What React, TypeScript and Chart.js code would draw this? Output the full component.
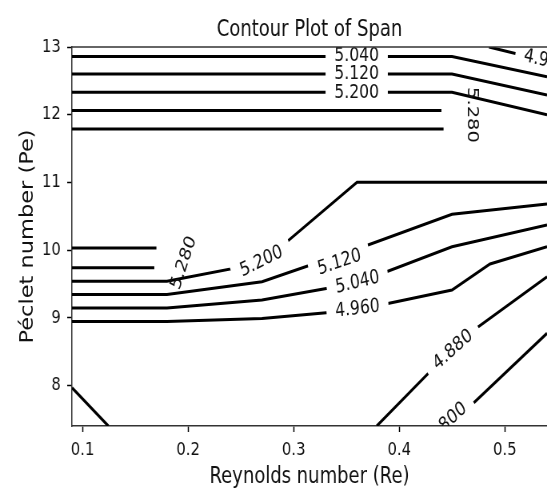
import React, { useEffect, useRef } from "react";
import { Chart, registerables } from "chart.js";

Chart.register(...registerables);

type Pt = [number, number];

// Axis ranges and ticks
const reRange: Pt = [0.09, 0.54];
const peRange: Pt = [7.4, 13.0];
const xTicks = [0.1, 0.2, 0.3, 0.4, 0.5];
const xTickLabels = ["0.1", "0.2", "0.3", "0.4", "0.5"];
const yTicks = [8, 9, 10, 11, 12, 13];
const yTickLabels = ["8", "9", "10", "11", "12", "13"];

// Contour levels of Span
const levels = [4.8, 4.88, 4.96, 5.04, 5.12, 5.2, 5.28, 5.36];

// Contour polylines per level, vertices as [Re, Pe]
const span480: Pt[][] = [
  [[0.4475, 7.4], [0.54, 8.77]],
];
const span488: Pt[][] = [
  [[0.09, 7.966], [0.1244, 7.4]],
  [[0.3787, 7.4], [0.4607, 8.705], [0.54, 9.606]],
];
const span496: Pt[][] = [
  [[0.09, 8.944], [0.18, 8.944], [0.27, 8.99], [0.36, 9.114], [0.45, 9.41], [0.486, 9.794], [0.54, 10.049]],
  [[0.485, 13.0], [0.54, 12.79]],
];
const span504: Pt[][] = [
  [[0.09, 12.86], [0.45, 12.86], [0.54, 12.56]],
  [[0.09, 9.144], [0.18, 9.144], [0.27, 9.262], [0.36, 9.513], [0.45, 10.049], [0.54, 10.37]],
];
const span512: Pt[][] = [
  [[0.09, 12.6], [0.45, 12.6], [0.54, 12.29]],
  [[0.09, 9.343], [0.18, 9.343], [0.27, 9.532], [0.36, 10.015], [0.45, 10.528], [0.54, 10.68]],
];
const span520: Pt[][] = [
  [[0.09, 12.33], [0.45, 12.33], [0.54, 12.0]],
  [[0.09, 9.54], [0.18, 9.54], [0.27, 9.81], [0.36, 11.0], [0.54, 11.0]],
];
const span528: Pt[][] = [
  [[0.09, 12.06], [0.44, 12.06]],
  [[0.09, 9.74], [0.168, 9.74]],
];
const span536: Pt[][] = [
  [[0.09, 11.79], [0.442, 11.79]],
  [[0.09, 10.03], [0.17, 10.03]],
];
const contourSets: Pt[][][] = [span480, span488, span496, span504, span512, span520, span528, span536];

// Inline contour labels: [level, Re, Pe, angle in degrees]
const contourLabels: [number, number, number, number][] = [
  [5.04, 0.3597, 12.865, 0],
  [5.12, 0.3597, 12.598, 0],
  [5.2, 0.3597, 12.328, 0],
  [5.28, 0.4686, 11.995, 90],
  [4.96, 0.539, 12.79, 14],
  [5.28, 0.196, 9.81, -72],
  [5.2, 0.2695, 9.83, -27],
  [5.12, 0.3434, 9.816, -19],
  [5.04, 0.3605, 9.52, -14],
  [4.96, 0.3605, 9.129, -7],
  [4.88, 0.4509, 8.523, -42],
  [4.8, 0.4453, 7.444, -43],
];

// The canvas is drawn wider than it is shown and squeezed horizontally by CSS.
const SHOWN_W = 547;
const SHOWN_H = 491;
const SQUEEZE = 0.8;
const CANVAS_W = Math.round(SHOWN_W / SQUEEZE);

const FONT = "'DejaVu Sans', sans-serif";
const LABEL_FONT = `19.5px ${FONT}`;
const TEXT_COLOR = "#111";
const SPINE_COLOR = "#333";

function canvasAngle(deg: number) {
  const r = (deg * Math.PI) / 180;
  return Math.atan2(Math.sin(r), Math.cos(r) / SQUEEZE);
}

function labelBoxes(chart: any, level: number) {
  const ctx = chart.ctx as CanvasRenderingContext2D;
  ctx.save();
  ctx.font = LABEL_FONT;
  const boxes = contourLabels
    .filter((l) => l[0] === level)
    .map(([lv, re, pe, deg]) => ({
      text: lv.toFixed(3),
      cx: chart.scales.x.getPixelForValue(re),
      cy: chart.scales.y.getPixelForValue(pe),
      a: canvasAngle(deg),
      hw: ctx.measureText(lv.toFixed(3)).width / 2 + 11,
      hh: 15,
    }));
  ctx.restore();
  return boxes;
}

const contourPlugin = {
  id: "contourLabels",
  beforeDatasetDraw(chart: any, args: any) {
    const ds = chart.data.datasets[args.index];
    const ctx = chart.ctx as CanvasRenderingContext2D;
    ctx.save();
    ctx.beginPath();
    ctx.rect(0, 0, chart.width, chart.height);
    for (const b of labelBoxes(chart, ds.level)) {
      const c = Math.cos(b.a);
      const s = Math.sin(b.a);
      const corners: Pt[] = [[-b.hw, -b.hh], [b.hw, -b.hh], [b.hw, b.hh], [-b.hw, b.hh]];
      corners.forEach(([u, v], i) => {
        const px = b.cx + u * c - v * s;
        const py = b.cy + u * s + v * c;
        if (i === 0) ctx.moveTo(px, py);
        else ctx.lineTo(px, py);
      });
      ctx.closePath();
    }
    ctx.clip("evenodd");
  },
  afterDatasetDraw(chart: any) {
    chart.ctx.restore();
  },
  afterDatasetsDraw(chart: any) {
    const ctx = chart.ctx as CanvasRenderingContext2D;
    const { left, right, top, bottom } = chart.chartArea;
    ctx.save();
    ctx.beginPath();
    ctx.rect(left, top, right - left, bottom - top);
    ctx.clip();
    ctx.font = LABEL_FONT;
    ctx.fillStyle = TEXT_COLOR;
    ctx.textAlign = "center";
    ctx.textBaseline = "middle";
    for (const lv of levels) {
      for (const b of labelBoxes(chart, lv)) {
        ctx.save();
        ctx.translate(b.cx, b.cy);
        ctx.rotate(b.a);
        ctx.fillText(b.text, 0, 0);
        ctx.restore();
      }
    }
    ctx.restore();
  },
  afterDraw(chart: any) {
    const ctx = chart.ctx as CanvasRenderingContext2D;
    const { left, right, top } = chart.chartArea;
    ctx.save();
    // top spine
    ctx.strokeStyle = SPINE_COLOR;
    ctx.lineWidth = 1.5;
    ctx.beginPath();
    ctx.moveTo(left, top);
    ctx.lineTo(right, top);
    ctx.stroke();
    // title
    ctx.font = `22.5px ${FONT}`;
    ctx.fillStyle = TEXT_COLOR;
    ctx.textAlign = "center";
    ctx.textBaseline = "alphabetic";
    ctx.fillText("Contour Plot of Span", (left + right) / 2, 36);
    ctx.restore();
  },
};

export default function App() {
  const canvasRef = useRef<HTMLCanvasElement | null>(null);

  useEffect(() => {
    if (!canvasRef.current) return;
    const datasets: any[] = [];
    contourSets.forEach((set, i) => {
      set.forEach((line) => {
        datasets.push({
          level: levels[i],
          data: line.map(([x, y]) => ({ x, y })),
          showLine: true,
          borderColor: "#000",
          borderWidth: 3,
          pointRadius: 0,
          pointHoverRadius: 0,
          fill: false,
          tension: 0,
        });
      });
    });

    const chart = new Chart(canvasRef.current, {
      type: "scatter",
      data: { datasets },
      options: {
        responsive: false,
        animation: false,
        devicePixelRatio: 1,
        events: [],
        layout: { padding: { top: 47, left: 0, right: 0, bottom: 0 } },
        plugins: { legend: { display: false }, tooltip: { enabled: false }, title: { display: false } },
        scales: {
          x: {
            type: "linear",
            position: "bottom",
            min: reRange[0],
            max: reRange[1],
            afterBuildTicks: (scale: any) => {
              scale.ticks = xTicks.map((v) => ({ value: v }));
            },
            afterFit: (scale: any) => {
              scale.height = 65;
            },
            ticks: {
              callback: (_v: any, i: number) => xTickLabels[i],
              font: { family: FONT, size: 18.5 },
              color: TEXT_COLOR,
              padding: 7,
              maxRotation: 0,
              autoSkip: false,
            },
            grid: {
              display: true,
              drawOnChartArea: false,
              drawTicks: true,
              tickLength: 6,
              tickWidth: 1.5,
              tickColor: "#000",
            },
            border: { display: true, color: SPINE_COLOR, width: 1.5 },
            title: {
              display: true,
              text: "Reynolds number (Re)",
              font: { family: FONT, size: 22.5 },
              color: TEXT_COLOR,
              padding: { top: 0, bottom: 0 },
            },
          },
          y: {
            type: "linear",
            position: "left",
            min: peRange[0],
            max: peRange[1],
            afterBuildTicks: (scale: any) => {
              scale.ticks = yTicks.map((v) => ({ value: v }));
            },
            afterFit: (scale: any) => {
              scale.width = 90;
            },
            ticks: {
              callback: (_v: any, i: number) => yTickLabels[i],
              font: { family: FONT, size: 18.5 },
              color: TEXT_COLOR,
              padding: 8,
              autoSkip: false,
            },
            grid: {
              display: true,
              drawOnChartArea: false,
              drawTicks: true,
              tickLength: 6,
              tickWidth: 1.5,
              tickColor: "#000",
            },
            border: { display: true, color: SPINE_COLOR, width: 1.5 },
            title: {
              display: true,
              text: "Péclet number (Pe)",
              font: { family: FONT, size: 22.5 },
              color: TEXT_COLOR,
              padding: { top: 21.5, bottom: 0 },
            },
          },
        },
      },
      plugins: [contourPlugin],
    } as any);

    return () => chart.destroy();
  }, []);

  return (
    <div style={{ position: "absolute", left: 0, top: 0, width: SHOWN_W, height: SHOWN_H, background: "#fff" }}>
      <canvas
        ref={canvasRef}
        width={CANVAS_W}
        height={SHOWN_H}
        style={{ width: `${SHOWN_W}px`, height: `${SHOWN_H}px`, display: "block" }}
      />
    </div>
  );
}
